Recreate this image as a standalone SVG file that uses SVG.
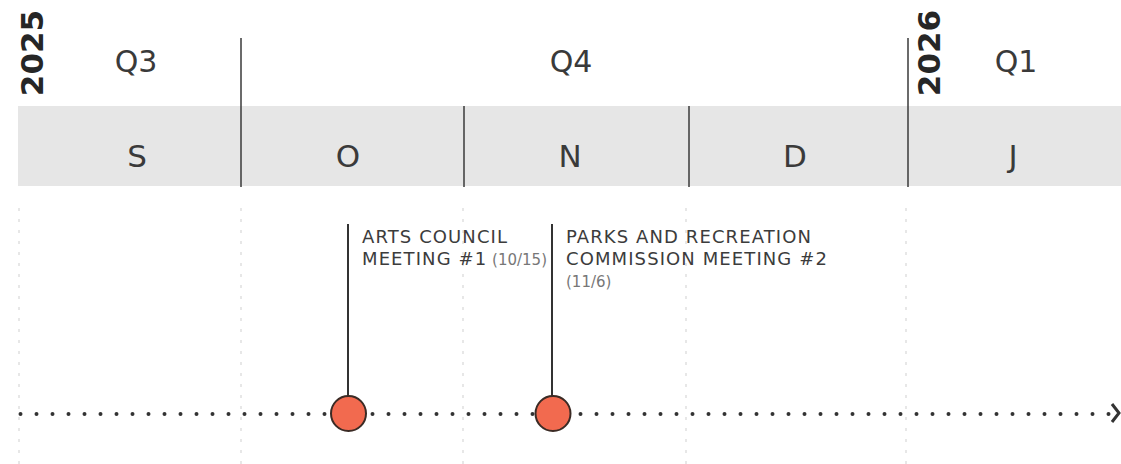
<svg xmlns="http://www.w3.org/2000/svg" width="1121" height="464" viewBox="0 0 1121 464">
<style>
.year{font-family:"DejaVu Sans","Liberation Sans",sans-serif;font-weight:bold;font-size:31px;fill:#262626}
.qtr{font-family:"DejaVu Sans","Liberation Sans",sans-serif;font-size:30px;fill:#3a3a3a;text-anchor:middle}
.mon{font-family:"DejaVu Sans","Liberation Sans",sans-serif;font-size:31px;fill:#3a3a3a;text-anchor:middle}
.sep{stroke:#3a3a3a;stroke-width:1.5}
.grid{stroke:#cfcfcf;stroke-width:1;stroke-dasharray:3 8}
.lbl{font-family:"DejaVu Sans","Liberation Sans",sans-serif;font-size:18px;fill:#3c3c3c;letter-spacing:1.1px}
.lt{fill:#777;font-size:15px;letter-spacing:0px}
.stem{stroke:#333;stroke-width:2}
.dot{fill:#f26a4f;stroke:#3b2b25;stroke-width:2}
</style>
<rect width="1121" height="464" fill="#ffffff"/>
<g id="header">
  <rect x="18" y="106" width="1103" height="80" fill="#e6e6e6"/>
  <text class="year" transform="translate(43,53) rotate(-90)" text-anchor="middle">2025</text>
  <text class="year" transform="translate(940,53) rotate(-90)" text-anchor="middle">2026</text>
  <text class="qtr" x="136" y="72">Q3</text>
  <text class="qtr" x="571" y="72">Q4</text>
  <text class="qtr" x="1016" y="72">Q1</text>
  <text class="mon" x="137" y="167">S</text>
  <text class="mon" x="348" y="167">O</text>
  <text class="mon" x="570" y="167">N</text>
  <text class="mon" x="795" y="167">D</text>
  <text class="mon" x="1013" y="167">J</text>
  <line class="sep" x1="241" y1="38" x2="241" y2="187"/>
  <line class="sep" x1="464" y1="106" x2="464" y2="187"/>
  <line class="sep" x1="689" y1="106" x2="689" y2="187"/>
  <line class="sep" x1="908" y1="38" x2="908" y2="187"/>
</g>
<g id="grid">
  <line class="grid" x1="19" y1="208" x2="19" y2="464"/>
  <line class="grid" x1="241" y1="208" x2="241" y2="464"/>
  <line class="grid" x1="463" y1="208" x2="463" y2="464"/>
  <line class="grid" x1="686" y1="208" x2="686" y2="464"/>
  <line class="grid" x1="906" y1="208" x2="906" y2="464"/>
</g>
<g id="connectors">
  <line x1="20.5" y1="414" x2="1110" y2="414" stroke="#333" stroke-width="4" stroke-linecap="round" stroke-dasharray="0 16"/>
  <polyline points="1112,404 1119,413 1112,422" fill="none" stroke="#333" stroke-width="3"/>
  <line class="stem" x1="348" y1="224" x2="348" y2="396"/>
  <line class="stem" x1="552" y1="224" x2="552" y2="396"/>
</g>
<g id="event1">
  <circle class="dot" cx="348.5" cy="413.5" r="17.5"/>
  <text class="lbl" x="362" y="243">ARTS COUNCIL</text>
  <text class="lbl" x="362" y="265">MEETING #1 <tspan class="lt" dx="-2">(10/15)</tspan></text>
</g>
<g id="event2">
  <circle class="dot" cx="553" cy="413.5" r="17.5"/>
  <text class="lbl" x="566" y="243">PARKS AND RECREATION</text>
  <text class="lbl" x="566" y="265">COMMISSION MEETING #2</text>
  <text class="lbl lt" x="566" y="287">(11/6)</text>
</g>
</svg>
